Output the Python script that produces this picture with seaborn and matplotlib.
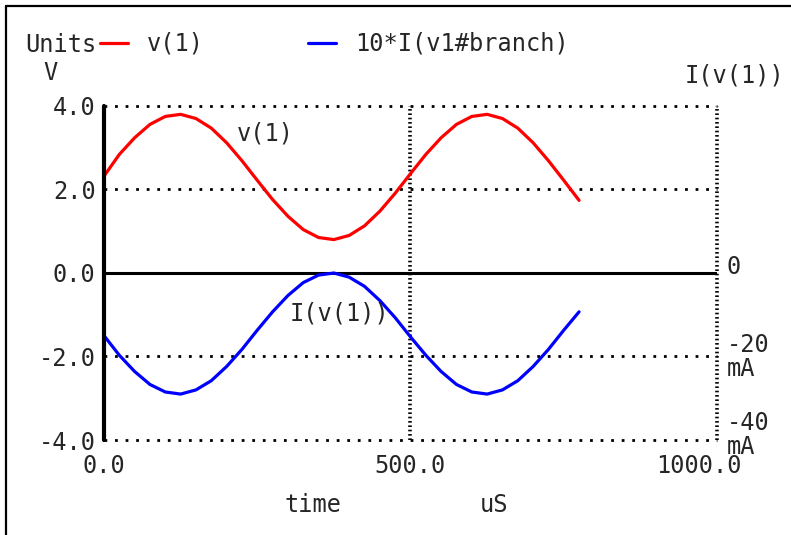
import matplotlib
matplotlib.use("Agg")
import matplotlib.pyplot as plt
import matplotlib.transforms as mtransforms
from matplotlib.lines import Line2D
import seaborn as sns
import pandas as pd

# transient sim output (time in uS, values in V / 10*A)
time_us = [0, 25, 50, 75, 100, 125, 150, 175, 200, 225, 250, 275, 300, 325, 350, 375,
           400, 425, 450, 475, 500, 525, 550, 575, 600, 625, 650, 675, 700, 725, 750, 775]
v1 = [2.32, 2.84, 3.24, 3.56, 3.75, 3.80, 3.70, 3.47, 3.12, 2.69, 2.22, 1.76, 1.36, 1.04, 0.85, 0.80,
      0.90, 1.13, 1.48, 1.91, 2.38, 2.84, 3.24, 3.56, 3.75, 3.80, 3.70, 3.47, 3.12, 2.69, 2.22, 1.74]
i_branch_x10 = [-1.50, -1.97, -2.36, -2.67, -2.85, -2.90, -2.80, -2.58, -2.24, -1.83, -1.37, -0.93,
                -0.54, -0.23, -0.05, 0.00, -0.10, -0.32, -0.66, -1.07, -1.53, -1.97, -2.36, -2.67,
                -2.85, -2.90, -2.80, -2.58, -2.24, -1.83, -1.37, -0.93]

yticks = [-4, -2, 0, 2, 4]
ytick_labels = ["-4.0", "-2.0", "0.0", "2.0", "4.0"]
xticks = [0, 500, 1000]
xtick_labels = ["0.0", "500.0", "1000.0"]
right_ticks = [0, -20, -40]
right_labels = ["0", "-20\nmA", "-40\nmA"]

sns.set_style("white")
plt.rcParams["font.family"] = ["DejaVu Sans Mono"]
FS = 17

df = pd.DataFrame({"time": time_us, "v(1)": v1, "10*I(v1#branch)": i_branch_x10})

fig = plt.figure(figsize=(7.91, 5.35), dpi=100)
ax = fig.add_axes([104 / 791, 1 - 440 / 535, (717 - 104) / 791, (440 - 106) / 535])

sns.lineplot(data=df, x="time", y="v(1)", ax=ax, color="#ff0000", lw=2.3, label="v(1)")
sns.lineplot(data=df, x="time", y="10*I(v1#branch)", ax=ax, color="#0000ff", lw=2.3,
             label="10*I(v1#branch)")

ax.set_xlim(0, 1000)
ax.set_ylim(-4, 4)
for s in ax.spines.values():
    s.set_visible(False)

# grid: sparse dots horizontally, dense dots vertically
for yv in [4, 2, -2, -4]:
    ax.axhline(yv, color="black", lw=2, ls=(0, (1, 2.8)), dash_capstyle="butt", zorder=0,
               clip_on=False)
for xv in [500, 1000]:
    ax.axvline(xv, color="black", lw=2.6, ls=(0, (0.45, 0.75)), dash_capstyle="butt", zorder=0,
               clip_on=False)
ax.axhline(0, color="black", lw=2.2, zorder=1)
ax.axvline(0, color="black", lw=3, zorder=3, clip_on=False)

ax.set_xticks(xticks, xtick_labels)
ax.set_yticks(yticks, ytick_labels)
ax.tick_params(axis="both", length=0, labelsize=FS)
ax.tick_params(axis="y", pad=6)
ax.tick_params(axis="x", pad=10)
ax.set_xlabel("")
ax.set_ylabel("")
last = ax.get_xticklabels()[-1]
last.set_transform(last.get_transform() + mtransforms.ScaledTranslation(-18 / 100, 0, fig.dpi_scale_trans))

ax2 = ax.twinx()
ax2.set_ylim(-40, 40)
for s in ax2.spines.values():
    s.set_visible(False)
ax2.set_yticks(right_ticks, right_labels)
ax2.tick_params(axis="y", length=0, labelsize=FS, pad=7)
for lab, dy in zip(ax2.get_yticklabels(), [8, 2, 7]):
    lab.set_linespacing(1.0)
    lab.set_transform(lab.get_transform() + mtransforms.ScaledTranslation(0, dy / 100, fig.dpi_scale_trans))

# curve labels
ax.text(217, 3.35, "v(1)", fontsize=FS, va="center", ha="left")
ax.text(303, -0.96, "I(v(1))", fontsize=FS, va="center", ha="left")

# legend row
ax.legend(loc="center left", bbox_to_anchor=(100 / 791, 1 - 44 / 535),
          bbox_transform=fig.transFigure, ncol=2, frameon=False, fontsize=FS,
          handlelength=1.2, handletextpad=0.8, columnspacing=4.4, borderpad=0,
          borderaxespad=0)
fig.text(25 / 791, 1 - 45 / 535, "Units", fontsize=FS, va="center", ha="left")
fig.text(43 / 791, 1 - 73 / 535, "V", fontsize=FS, va="center", ha="left")
fig.text(685 / 791, 1 - 75 / 535, "I(v(1))", fontsize=FS, va="center", ha="left")
fig.text(285 / 791, 1 - 505 / 535, "time", fontsize=FS, va="center", ha="left")
fig.text(480 / 791, 1 - 505 / 535, "uS", fontsize=FS, va="center", ha="left")

# window frame (top and left edges)
fig.add_artist(Line2D([6 / 791, 1], [1 - 6 / 535] * 2, color="black", lw=1.6,
                      transform=fig.transFigure))
fig.add_artist(Line2D([6 / 791] * 2, [0, 1 - 6 / 535], color="black", lw=1.6,
                      transform=fig.transFigure))

fig.savefig("out.png", dpi=100)
